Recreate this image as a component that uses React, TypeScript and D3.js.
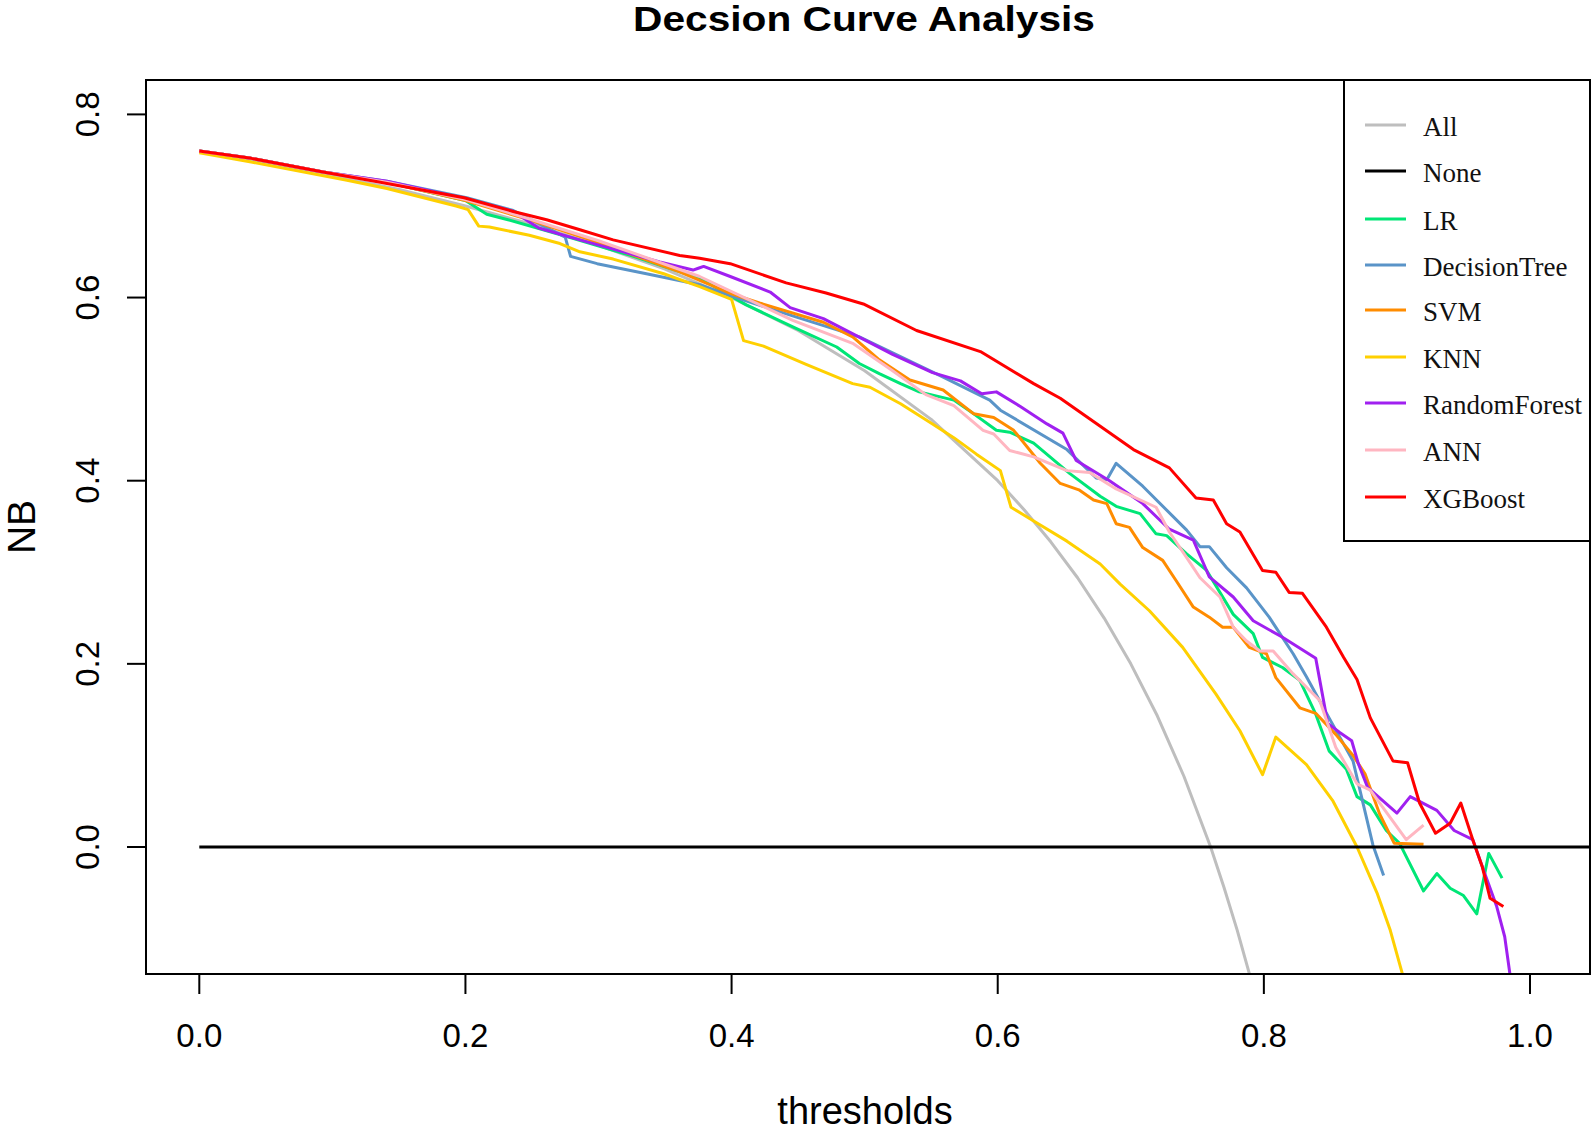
import React from "react";
import * as d3 from "d3";

type Pt = [number, number];

const title = "Decsion Curve Analysis";
const xTicks = [0, 0.2, 0.4, 0.6, 0.8, 1.0];
const yTicks = [0, 0.2, 0.4, 0.6, 0.8];
const legendNames = ["All", "None", "LR", "DecisionTree", "SVM", "KNN", "RandomForest", "ANN", "XGBoost"];
const legendColors = ["#BEBEBE", "#000000", "#00E676", "#5A94C8", "#FF8C00", "#FFD000", "#A020F0", "#FFB6C1", "#FF0000"];

const allCurve: Pt[] = [
  [0, 0.76], [0.05, 0.747], [0.1, 0.733], [0.15, 0.718], [0.2, 0.7], [0.25, 0.68], [0.3, 0.657],
  [0.35, 0.631], [0.4, 0.6], [0.45, 0.564], [0.5, 0.52], [0.55, 0.467], [0.6, 0.4], [0.62, 0.368],
  [0.64, 0.333], [0.66, 0.294], [0.68, 0.25], [0.7, 0.2], [0.72, 0.143], [0.74, 0.077], [0.76, 0.0],
  [0.77, -0.044], [0.78, -0.091], [0.79, -0.143], [0.8, -0.2],
];
const noneCurve: Pt[] = [[0, 0], [1.1, 0]];

const lrCurve: Pt[] = [
  [0, 0.76], [0.039, 0.752], [0.093, 0.737], [0.141, 0.726], [0.2, 0.706], [0.216, 0.691], [0.232, 0.685],
  [0.28, 0.665], [0.324, 0.646], [0.376, 0.621], [0.411, 0.592], [0.446, 0.568], [0.479, 0.546],
  [0.496, 0.528], [0.511, 0.517], [0.527, 0.506], [0.541, 0.497], [0.567, 0.488], [0.582, 0.473],
  [0.599, 0.455], [0.609, 0.453], [0.627, 0.441], [0.654, 0.408], [0.677, 0.383], [0.689, 0.372],
  [0.707, 0.364], [0.719, 0.342], [0.727, 0.34], [0.742, 0.32], [0.757, 0.302], [0.777, 0.254],
  [0.792, 0.233], [0.799, 0.207], [0.814, 0.196], [0.827, 0.182], [0.839, 0.145], [0.849, 0.105],
  [0.862, 0.085], [0.87, 0.055], [0.88, 0.046], [0.892, 0.018], [0.902, 0.004], [0.92, -0.048],
  [0.93, -0.029], [0.94, -0.045], [0.95, -0.053], [0.96, -0.073], [0.969, -0.007], [0.979, -0.034],
];
const dtCurve: Pt[] = [
  [0, 0.76], [0.039, 0.752], [0.093, 0.737], [0.141, 0.727], [0.201, 0.709], [0.236, 0.695],
  [0.275, 0.666], [0.279, 0.645], [0.299, 0.637], [0.336, 0.626], [0.376, 0.614], [0.401, 0.601],
  [0.45, 0.578], [0.496, 0.557], [0.559, 0.513], [0.594, 0.488], [0.602, 0.477], [0.652, 0.434],
  [0.674, 0.403], [0.682, 0.401], [0.689, 0.419], [0.709, 0.394], [0.742, 0.346], [0.752, 0.328],
  [0.759, 0.328], [0.772, 0.305], [0.787, 0.283], [0.804, 0.251], [0.822, 0.211], [0.832, 0.186],
  [0.849, 0.141], [0.867, 0.094], [0.882, 0.002], [0.89, -0.031],
];
const svmCurve: Pt[] = [
  [0, 0.76], [0.039, 0.752], [0.093, 0.737], [0.141, 0.726], [0.2, 0.706], [0.25, 0.684], [0.3, 0.66],
  [0.361, 0.628], [0.4, 0.604], [0.421, 0.594], [0.469, 0.573], [0.491, 0.557], [0.511, 0.532],
  [0.534, 0.51], [0.559, 0.499], [0.582, 0.473], [0.597, 0.469], [0.612, 0.455], [0.632, 0.419],
  [0.647, 0.397], [0.661, 0.39], [0.672, 0.379], [0.682, 0.375], [0.689, 0.353], [0.699, 0.349],
  [0.709, 0.327], [0.724, 0.313], [0.734, 0.291], [0.747, 0.262], [0.759, 0.251], [0.769, 0.24],
  [0.777, 0.24], [0.789, 0.218], [0.802, 0.211], [0.809, 0.185], [0.827, 0.152], [0.839, 0.146],
  [0.854, 0.123], [0.867, 0.1], [0.876, 0.08], [0.887, 0.036], [0.898, 0.004], [0.92, 0.003],
];
const knnCurve: Pt[] = [
  [0, 0.758], [0.039, 0.748], [0.111, 0.728], [0.141, 0.719], [0.193, 0.7], [0.202, 0.696],
  [0.21, 0.678], [0.218, 0.677], [0.248, 0.668], [0.271, 0.659], [0.286, 0.65], [0.311, 0.642],
  [0.349, 0.626], [0.376, 0.612], [0.4, 0.598], [0.409, 0.553], [0.424, 0.547], [0.456, 0.527],
  [0.491, 0.506], [0.504, 0.502], [0.527, 0.484], [0.551, 0.462], [0.567, 0.447], [0.584, 0.429],
  [0.602, 0.411], [0.61, 0.371], [0.627, 0.356], [0.652, 0.334], [0.677, 0.309], [0.692, 0.287],
  [0.714, 0.258], [0.739, 0.218], [0.764, 0.167], [0.782, 0.127], [0.799, 0.079], [0.809, 0.12],
  [0.832, 0.09], [0.852, 0.05], [0.87, 0.0], [0.885, -0.05], [0.895, -0.091], [0.904, -0.138],
  [0.906, -0.15],
];
const rfCurve: Pt[] = [
  [0, 0.76], [0.039, 0.752], [0.093, 0.737], [0.141, 0.727], [0.2, 0.708], [0.236, 0.694],
  [0.255, 0.676], [0.286, 0.663], [0.346, 0.639], [0.371, 0.63], [0.375, 0.632], [0.379, 0.634],
  [0.399, 0.623], [0.429, 0.606], [0.444, 0.589], [0.469, 0.577], [0.501, 0.553], [0.521, 0.538],
  [0.551, 0.518], [0.572, 0.509], [0.588, 0.495], [0.599, 0.497], [0.617, 0.481], [0.637, 0.462],
  [0.649, 0.452], [0.659, 0.422], [0.684, 0.4], [0.709, 0.375], [0.729, 0.347], [0.747, 0.335],
  [0.759, 0.295], [0.777, 0.273], [0.792, 0.247], [0.814, 0.229], [0.839, 0.206], [0.848, 0.135],
  [0.857, 0.125], [0.866, 0.116], [0.871, 0.091], [0.878, 0.065], [0.9, 0.037], [0.91, 0.055],
  [0.93, 0.04], [0.943, 0.018], [0.957, 0.008], [0.966, -0.029], [0.975, -0.065], [0.981, -0.098],
  [0.986, -0.15],
];
const annCurve: Pt[] = [
  [0, 0.76], [0.039, 0.752], [0.093, 0.737], [0.141, 0.726], [0.2, 0.707], [0.25, 0.685], [0.3, 0.662],
  [0.376, 0.623], [0.446, 0.575], [0.491, 0.55], [0.521, 0.52], [0.546, 0.494], [0.567, 0.482],
  [0.589, 0.455], [0.597, 0.451], [0.609, 0.433], [0.627, 0.426], [0.652, 0.411], [0.669, 0.409],
  [0.689, 0.391], [0.719, 0.371], [0.729, 0.344], [0.742, 0.316], [0.752, 0.294], [0.767, 0.273],
  [0.777, 0.24], [0.787, 0.225], [0.797, 0.214], [0.807, 0.214], [0.822, 0.189], [0.842, 0.16],
  [0.854, 0.109], [0.87, 0.069], [0.88, 0.062], [0.907, 0.008], [0.92, 0.024],
];
const xgbCurve: Pt[] = [
  [0, 0.76], [0.039, 0.752], [0.093, 0.737], [0.136, 0.726], [0.199, 0.709], [0.236, 0.694],
  [0.261, 0.685], [0.286, 0.674], [0.311, 0.663], [0.361, 0.646], [0.376, 0.643], [0.399, 0.637],
  [0.441, 0.616], [0.471, 0.605], [0.499, 0.593], [0.539, 0.564], [0.587, 0.541], [0.627, 0.506],
  [0.647, 0.49], [0.702, 0.434], [0.729, 0.414], [0.749, 0.381], [0.762, 0.379], [0.772, 0.353],
  [0.782, 0.344], [0.799, 0.302], [0.809, 0.3], [0.819, 0.278], [0.829, 0.277], [0.847, 0.24],
  [0.86, 0.207], [0.87, 0.183], [0.88, 0.141], [0.897, 0.094], [0.908, 0.092], [0.917, 0.048],
  [0.929, 0.015], [0.94, 0.026], [0.948, 0.048], [0.957, 0.008], [0.964, -0.021], [0.97, -0.056],
  [0.98, -0.065],
];

const seriesData: Pt[][] = [allCurve, lrCurve, dtCurve, svmCurve, knnCurve, rfCurve, annCurve, xgbCurve];
const seriesColorIdx = [0, 2, 3, 4, 5, 6, 7, 8];

export default function App() {
  const W = 1593, H = 1132;
  const left = 146, right = 1590, top = 80, bottom = 974;
  const x = d3.scaleLinear().domain([0, 1]).range([199.3, 1530]);
  const y = d3.scaleLinear().domain([0, 0.8]).range([847, 114.4]);
  const line = d3.line<Pt>().x((d) => x(d[0])).y((d) => y(d[1]));
  const sans = "'Liberation Sans', Arial, Helvetica, sans-serif";
  const serif = "'Liberation Serif', 'Times New Roman', serif";
  const legendY = [125, 171, 219, 265, 310, 357, 403, 450, 497];

  return (
    <svg width={W} height={H} style={{ position: "absolute", left: 0, top: 0, background: "#fff" }}>
      <rect x={0} y={0} width={W} height={H} fill="#fff" />
      <defs>
        <clipPath id="plotclip">
          <rect x={left} y={top} width={right - left} height={bottom - top} />
        </clipPath>
      </defs>
      <text x={633} y={31} fontFamily={sans} fontWeight="bold" fontSize={35}
        textLength={462} lengthAdjust="spacingAndGlyphs">
        {title}
      </text>
      <g clipPath="url(#plotclip)">
        {seriesData.map((d, i) => (
          <path key={i} d={line(d) || ""} fill="none" stroke={legendColors[seriesColorIdx[i]]}
            strokeWidth={3} strokeLinejoin="round" />
        ))}
        <path d={line(noneCurve) || ""} fill="none" stroke="#000" strokeWidth={3} />
      </g>
      <rect x={left} y={top} width={right - left} height={bottom - top} fill="none" stroke="#000" strokeWidth={2} />
      {xTicks.map((t) => (
        <g key={"x" + t}>
          <line x1={x(t)} x2={x(t)} y1={bottom} y2={994} stroke="#000" strokeWidth={2} />
          <text x={x(t)} y={1047} textAnchor="middle" fontFamily={sans} fontSize={33}>
            {t.toFixed(1)}
          </text>
        </g>
      ))}
      {yTicks.map((t) => (
        <g key={"y" + t}>
          <line x1={127} x2={left} y1={y(t)} y2={y(t)} stroke="#000" strokeWidth={2} />
          <text transform={`translate(99,${y(t)}) rotate(-90)`} textAnchor="middle" fontFamily={sans} fontSize={33}>
            {t.toFixed(1)}
          </text>
        </g>
      ))}
      <text x={865} y={1124} textAnchor="middle" fontFamily={sans} fontSize={38}>thresholds</text>
      <text transform="translate(35,527) rotate(-90)" textAnchor="middle" fontFamily={sans} fontSize={39}>NB</text>
      <rect x={1344} y={80} width={246} height={461} fill="#fff" stroke="#000" strokeWidth={2} />
      {legendNames.map((n, i) => (
        <g key={n}>
          <line x1={1365} x2={1406} y1={legendY[i]} y2={legendY[i]} stroke={legendColors[i]} strokeWidth={3} />
          <text x={1423} y={legendY[i] + 2} dominantBaseline="central" fontFamily={serif} fontSize={27} fill="#111">
            {n}
          </text>
        </g>
      ))}
    </svg>
  );
}
